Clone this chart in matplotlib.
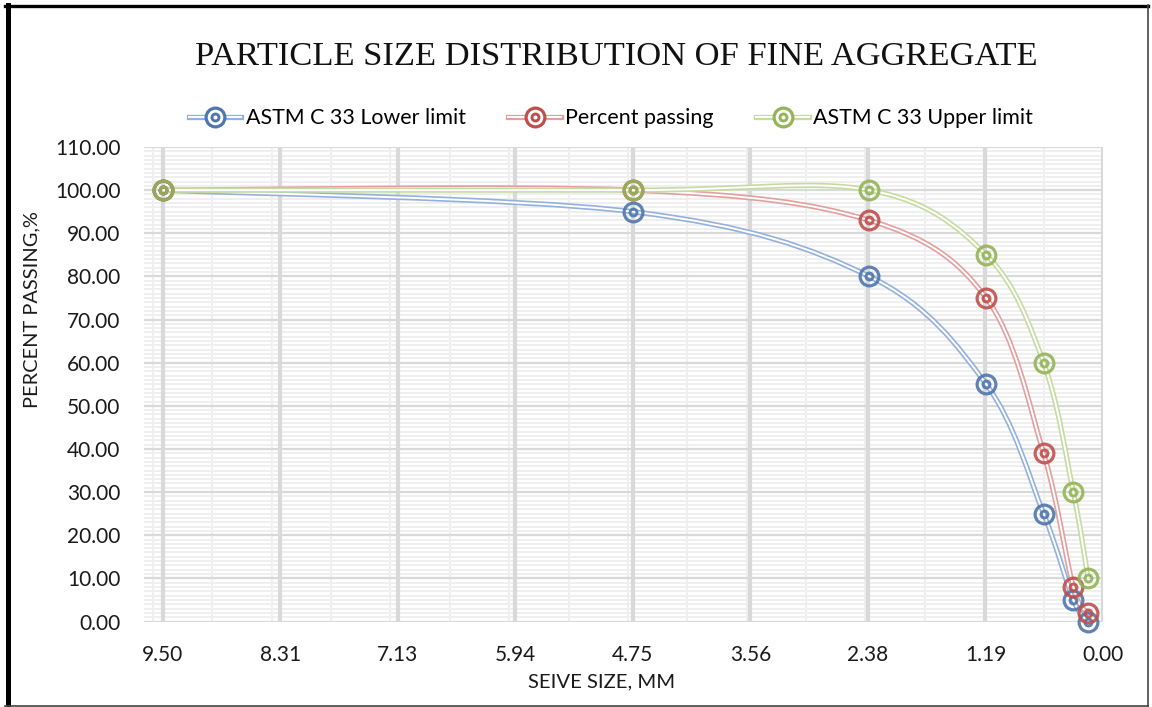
import numpy as np
import matplotlib
matplotlib.use("Agg")
import matplotlib.pyplot as plt
from matplotlib.path import Path
from matplotlib.patches import PathPatch
from matplotlib.lines import Line2D
from matplotlib.legend_handler import HandlerTuple
import matplotlib.patheffects as pe

# Sieve analysis data
sieve_mm = [9.50, 4.75, 2.36, 1.18, 0.60, 0.30, 0.15]
lower_limit = [100, 95, 80, 55, 25, 5, 0]
percent_passing = [100, 100, 93, 75, 39, 8, 2]
upper_limit = [100, 100, 100, 85, 60, 30, 10]

series_names = ["ASTM C 33 Lower limit", "Percent passing", "ASTM C 33 Upper limit"]

x_tick_values = [9.50, 8.3125, 7.125, 5.9375, 4.75, 3.5625, 2.375, 1.1875, 0.0]
x_tick_labels = ["9.50", "8.31", "7.13", "5.94", "4.75", "3.56", "2.38", "1.19", "0.00"]
y_tick_values = list(range(0, 111, 10))
y_tick_labels = [f"{v:.2f}" for v in y_tick_values]

line_colors = ["#93b1dc", "#e29f9d", "#c6dba2"]
marker_colors = ["#4f76ad", "#bf4f4c", "#94b457"]

UI_FONT = ["Lato", "DejaVu Sans"]
TITLE_FONT = ["Liberation Serif", "DejaVu Serif"]

W, H, DPI = 1152, 707, 100
fig = plt.figure(figsize=(W / DPI, H / DPI), dpi=DPI)
fig.patch.set_facecolor("white")

left, right, top, bottom = 144, 1103, 147, 621.5
ax = fig.add_axes([left / W, 1 - bottom / H, (right - left) / W, (bottom - top) / H])
ax.set_xlim(9.69, 0.0)
ax.set_ylim(0, 110)
for s in ax.spines.values():
    s.set_visible(False)

# grid: minor lines first, then majors
for v in np.arange(0, 9.7, 0.6):
    ax.axvline(v, color="#efefef", lw=1.5, zorder=0.5)
for v in range(0, 111):
    ax.axhline(v, color="#efefef", lw=1.4, zorder=0.5)
for v in y_tick_values:
    ax.axhline(v, color="#d9d9d9", lw=1.6, zorder=0.7)
for v in x_tick_values:
    ax.axvline(v, color="#d9d9d9", lw=3.0, zorder=0.8)

ax.set_xticks(x_tick_values)
ax.set_xticklabels(x_tick_labels, fontfamily=UI_FONT, fontsize=15, color="#1a1a1a")
ax.set_yticks(y_tick_values)
ax.set_yticklabels(y_tick_labels, fontfamily=UI_FONT, fontsize=15, color="#1a1a1a")
ax.tick_params(axis="both", length=0)
ax.tick_params(axis="x", pad=17)
ax.tick_params(axis="y", pad=17)


def smooth_path(xs, ys):
    """Cubic Bezier path through the points (Catmull-Rom style control points)."""
    pts = np.column_stack([xs, ys]).astype(float)
    n = len(pts)
    verts = [pts[0]]
    codes = [Path.MOVETO]
    for i in range(n - 1):
        p0 = pts[i - 1] if i > 0 else pts[i]
        p1 = pts[i]
        p2 = pts[i + 1]
        p3 = pts[i + 2] if i + 2 < n else pts[i + 1]
        c1 = p1 + (p2 - p0) / 6.0
        c2 = p2 - (p3 - p1) / 6.0
        verts += [c1, c2, p2]
        codes += [Path.CURVE4] * 3
    return Path(verts, codes)


def double_line(color):
    return [pe.Stroke(linewidth=3.8, foreground=color),
            pe.Stroke(linewidth=1.4, foreground="white")]


all_series = [lower_limit, percent_passing, upper_limit]
handles = []
for k, (vals, lc, mc) in enumerate(zip(all_series, line_colors, marker_colors)):
    patch = PathPatch(smooth_path(sieve_mm, vals), fill=False, edgecolor=lc,
                      lw=3.8, zorder=2 + k)
    patch.set_path_effects(double_line(lc))
    ax.add_patch(patch)
    ax.plot(sieve_mm, vals, ls="none", marker="o", ms=13.5, mew=2.3,
            mfc="none", mec=mc, alpha=0.9, zorder=5 + k, clip_on=False)
    ax.plot(sieve_mm, vals, ls="none", marker="o", ms=5.0, mew=2.1,
            mfc="none", mec=mc, alpha=0.9, zorder=5 + k, clip_on=False)
    h = (Line2D([], [], color=lc, lw=3.8),
         Line2D([], [], color="white", lw=1.4),
         Line2D([], [], ls="none", marker="o", ms=13.5, mew=2.3, mfc="white", mec=mc),
         Line2D([], [], ls="none", marker="o", ms=5.0, mew=2.1, mfc="none", mec=mc))
    handles.append(h)

fig.legend(handles, series_names, handler_map={tuple: HandlerTuple(ndivide=1, pad=0)},
           loc="center", bbox_to_anchor=(611 / W, 1 - 118 / H), ncol=3, frameon=False,
           prop={"family": UI_FONT, "size": 15.4}, handlelength=2.45,
           handletextpad=0.2, columnspacing=2.0, borderpad=0)

fig.text(616 / W, 1 - 57 / H, "PARTICLE SIZE DISTRIBUTION OF FINE AGGREGATE",
         ha="center", va="center", fontfamily=TITLE_FONT, fontsize=24.8, color="#111111")
fig.text(602 / W, 1 - 682 / H, "SEIVE SIZE, MM", ha="center", va="center",
         fontfamily=UI_FONT, fontsize=14.6, color="#1a1a1a")
fig.text(32 / W, 1 - 310 / H, "PERCENT PASSING,%", ha="center", va="center",
         rotation=90, fontfamily=UI_FONT, fontsize=14.4, color="#1a1a1a")

# outer frame
def fig_line(x0, y0, x1, y1, **kw):
    fig.add_artist(Line2D([x0 / W, x1 / W], [1 - y0 / H, 1 - y1 / H],
                          transform=fig.transFigure, **kw))

fig_line(5, 6, 1148, 6, color="black", lw=2.4)
fig_line(7.5, 5, 7.5, 707, color="black", lw=3.6)
fig_line(1147.5, 5, 1147.5, 707, color="#444444", lw=1.2)
fig_line(5, 706, 1148, 706, color="#444444", lw=1.2)

fig.savefig("out.png", dpi=DPI, facecolor="white")
